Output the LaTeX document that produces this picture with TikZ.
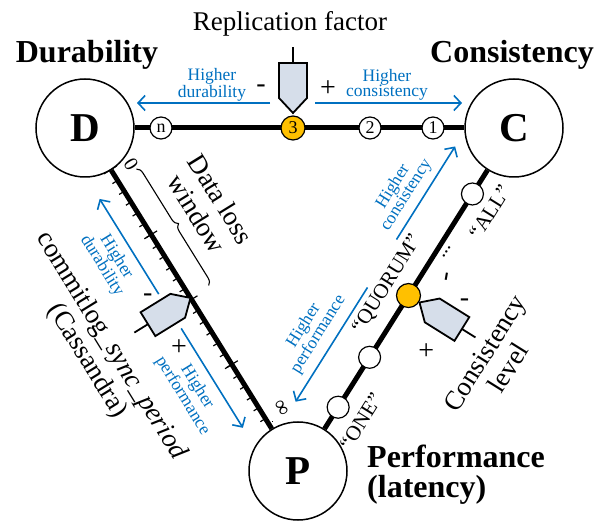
\documentclass[tikz,border=0pt]{standalone}
\usepackage{fontspec}
\setmainfont{Liberation Serif}
\usetikzlibrary{calc,arrows.meta,decorations.pathreplacing}
\definecolor{hintblue}{RGB}{0,112,192}
\definecolor{knobgold}{RGB}{255,192,0}
\definecolor{sliderfill}{RGB}{214,222,234}
\newcommand{\fsz}[2]{\fontsize{#1}{#2}\selectfont}

\begin{document}
\begin{tikzpicture}[x=1pt,y=-1pt,
    vertex/.style={circle,draw,line width=1.5pt,minimum size=98pt,inner sep=0pt,font=\bfseries\fsz{41}{41}},
    axisline/.style={line width=5pt},
    knob/.style={circle,draw,fill=white,line width=1.2pt,minimum size=22pt,inner sep=0pt,font=\fsz{18}{18}},
    hot/.style={fill=knobgold,minimum size=24pt},
    tick/.style={line width=1.2pt},
    hint/.style={text=hintblue,font=\fsz{17.5}{15.5},align=center},
    hintarrow/.style={hintblue,line width=1.6pt,-{Straight Barb[length=7pt,width=15pt]}},
    lbl/.style={font=\fsz{27}{28},align=center},
    quote/.style={font=\fsz{21}{21}},
    sign/.style={font=\fsz{28}{28}},
    title/.style={font=\bfseries\fsz{32}{30},align=left},
    slider/.pic={
      \draw[line width=1.8pt,fill=sliderfill] (0,0) -- (-14,-15) -- (-14,-50) -- (14,-50) -- (14,-15) -- cycle;
      \draw[line width=1.8pt] (0,-50) -- (0,-66);
    }
  ]
    \useasboundingbox (0,0) rectangle (606,521);

    % the three corners
    \node[vertex] (D) at (85,128) {D};
    \node[vertex] (C) at (514,128) {C};
    \node[vertex] (P) at (298,471) {P};
    \draw[axisline] (D) -- (C);
    \draw[axisline] (D) -- (P);
    \draw[axisline] (C) -- (P);

    \node[title,anchor=base] (durT) at (87,63) {Durability};
    \node[title,anchor=base] (conT) at (512,63) {Consistency};
    \node[title,anchor=north west,inner sep=0pt] (perfT) at (367,445) {Performance\\(latency)};

    % replication factor (top edge)
    \node[lbl] (rfT) at (290,24) {Replication factor};
    \node[knob] (rfN) at (161,128) {n};
    \node[knob,hot] (rf3) at (293,128) {3};
    \node[knob] (rf2) at (370,128) {2};
    \node[knob] (rf1) at (433,128) {1};
    \pic at (293,113) {slider};
    \coordinate (tdA) at (270,103); \coordinate (tdB) at (137,103);
    \coordinate (tcA) at (315,103); \coordinate (tcB) at (462,103);
    \draw[hintarrow] (tdA) -- (tdB);
    \draw[hintarrow] (tcA) -- (tcB);
    \node[hint] (tdT) at (212,85) {Higher\\durability};
    \node[hint] (tcT) at (387,85) {Higher\\consistency};
    \node[sign] (tMinus) at (261,89) {-};
    \node[sign] (tPlus) at (328,89) {+};

    % commitlog sync period (left edge)
    \coordinate (r0) at ($(D)!49pt!(P)$);
    \coordinate (r1) at ($(P)!49pt!(D)$);
    \foreach \i in {1,...,23}
      \draw[tick] ($(r0)!\i/24!(r1)!6pt!-90:(r1)$) -- ($(r0)!\i/24!(r1)!2pt!90:(r1)$);
    \foreach \i in {0,6,...,24}
      \draw[tick] ($(r0)!\i/24!(r1)!8pt!-90:(r1)$) -- ($(r0)!\i/24!(r1)!7pt!90:(r1)$);
    \node[font=\fsz{20}{20},rotate=-58.3] (zero) at ($(D)!55pt!(P)!20pt!90:(P)$) {0};
    \node[font=\fsz{22}{22},rotate=-58.3] (inf) at ($(D)!342pt!(P)!19pt!90:(P)$) {∞};
    \coordinate (winA) at ($(D)!62pt!(P)!22pt!90:(P)$);
    \coordinate (winB) at ($(D)!199pt!(P)!22pt!90:(P)$);
    \draw[line width=1.1pt,decorate,decoration={brace,amplitude=7pt}] (winA) -- (winB);
    \node[lbl,rotate=-58.3] (winT) at ($(D)!132pt!(P)!64pt!90:(P)$) {Data loss\\window};
    \pic[rotate=121.7] at ($(D)!200pt!(P)$) {slider};
    \node[sign] (lMinus) at ($(D)!177pt!(P)!36pt!-90:(P)$) {-};
    \node[sign] (lPlus) at ($(D)!236pt!(P)!36pt!-90:(P)$) {+};
    \coordinate (ldA) at ($(D)!180pt!(P)!25pt!-90:(P)$);
    \coordinate (ldB) at ($(D)!68pt!(P)!25pt!-90:(P)$);
    \coordinate (lpA) at ($(D)!221pt!(P)!24pt!-90:(P)$);
    \coordinate (lpB) at ($(D)!338pt!(P)!24pt!-90:(P)$);
    \draw[hintarrow] (ldA) -- (ldB);
    \draw[hintarrow] (lpA) -- (lpB);
    \node[hint,rotate=-58.3] (ldT) at ($(D)!126pt!(P)!50pt!-90:(P)$) {Higher\\durability};
    \node[hint,rotate=-58.3] (lpT) at ($(D)!279pt!(P)!50pt!-90:(P)$) {Higher\\performance};
    \node[lbl,rotate=-58.3] (clogT) at ($(D)!199pt!(P)!107pt!-90:(P)$) {commitlog\_\textit{sync\_period}\\(Cassandra)};

    % consistency level (right edge)
    \node[knob] (clAll) at ($(C)!78pt!(P)$) {};
    \node[knob,hot] (clQ) at ($(C)!198pt!(P)$) {};
    \node[knob] (clMid) at ($(C)!271pt!(P)$) {};
    \node[knob] (clOne) at ($(C)!330pt!(P)$) {};
    \node[font=\fsz{20}{20},rotate=58] (clDots) at ($(C)!141pt!(P)!9pt!90:(P)$) {...};
    \node[quote,rotate=58] (allT) at ($(C)!84pt!(P)!24pt!90:(P)$) {“ALL”};
    \node[quote,rotate=58] (quoT) at ($(C)!200pt!(P)!24pt!-90:(P)$) {“QUORUM”};
    \node[quote,rotate=58] (oneT) at ($(C)!330pt!(P)!27pt!90:(P)$) {“ONE”};
    \node[sign,rotate=80] (rDash) at ($(C)!161pt!(P)!25pt!90:(P)$) {-};
    \node[sign] (rMinus) at ($(C)!174pt!(P)!51pt!90:(P)$) {-};
    \node[sign] (rPlus) at ($(C)!236pt!(P)!45pt!90:(P)$) {+};
    \pic[rotate=-122] at ($(C)!198pt!(P)!13pt!90:(P)$) {slider};
    \node[lbl,rotate=58] (levT) at ($(C)!206pt!(P)!109pt!90:(P)$) {Consistency\\level};
    \coordinate (rcA) at ($(C)!157pt!(P)!40pt!-90:(P)$);
    \coordinate (rcB) at ($(C)!47pt!(P)!40pt!-90:(P)$);
    \coordinate (rpA) at ($(C)!213pt!(P)!39pt!-90:(P)$);
    \coordinate (rpB) at ($(C)!348pt!(P)!39pt!-90:(P)$);
    \draw[hintarrow] (rcA) -- (rcB);
    \draw[hintarrow] (rpA) -- (rpB);
    \node[hint,rotate=58] (rcT) at ($(C)!114pt!(P)!63pt!-90:(P)$) {Higher\\consistency};
    \node[hint,rotate=58] (rpT) at ($(C)!279pt!(P)!64pt!-90:(P)$) {Higher\\performance};

\end{tikzpicture}
\end{document}
